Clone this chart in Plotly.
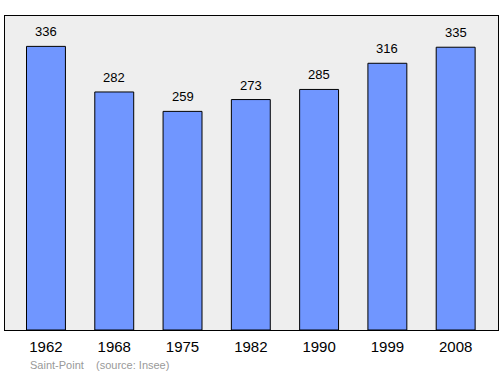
import plotly.graph_objects as go

years = ["1962", "1968", "1975", "1982", "1990", "1999", "2008"]
population = [336, 282, 259, 273, 285, 316, 335]

fig = go.Figure()
fig.add_trace(go.Bar(
    x=list(range(len(years))), y=population,
    marker=dict(color="#7096ff", line=dict(color="#000000", width=1)),
    width=0.57,
    hoverinfo="skip",
))

for i, v in enumerate(population):
    fig.add_annotation(x=i, y=v, xref="x", yref="y", text=str(v), showarrow=False,
                       yanchor="bottom", yshift=5,
                       font=dict(family="Liberation Sans, Arial", size=13, color="#000000"))

fig.add_annotation(xref="paper", yref="paper", x=0.047, y=-0.085, xanchor="left", yanchor="top",
                   text="Saint-Point&nbsp;&nbsp;&nbsp;&nbsp;(source: Insee)", showarrow=False,
                   font=dict(family="Liberation Sans, Arial", size=11, color="#999999"))

fig.update_layout(
    width=500, height=374,
    margin=dict(l=5, r=2, t=16, b=44),
    paper_bgcolor="#ffffff",
    plot_bgcolor="#eeeeee",
    showlegend=False,
    xaxis=dict(type="linear", range=[-0.6, 6.62], showline=True, mirror=True, linecolor="#000000", linewidth=1,
               showgrid=False, zeroline=False, ticks="outside", ticklen=3, tickcolor="rgba(0,0,0,0)",
               tickmode="array", tickvals=list(range(len(years))), ticktext=years,
               tickfont=dict(family="Liberation Sans, Arial", size=15, color="#000000"),
               fixedrange=True),
    yaxis=dict(range=[0, 372], showline=True, mirror=True, linecolor="#000000", linewidth=1,
               showgrid=False, showticklabels=False, ticks="", zeroline=False, fixedrange=True),
)

fig.write_html("out.html")
